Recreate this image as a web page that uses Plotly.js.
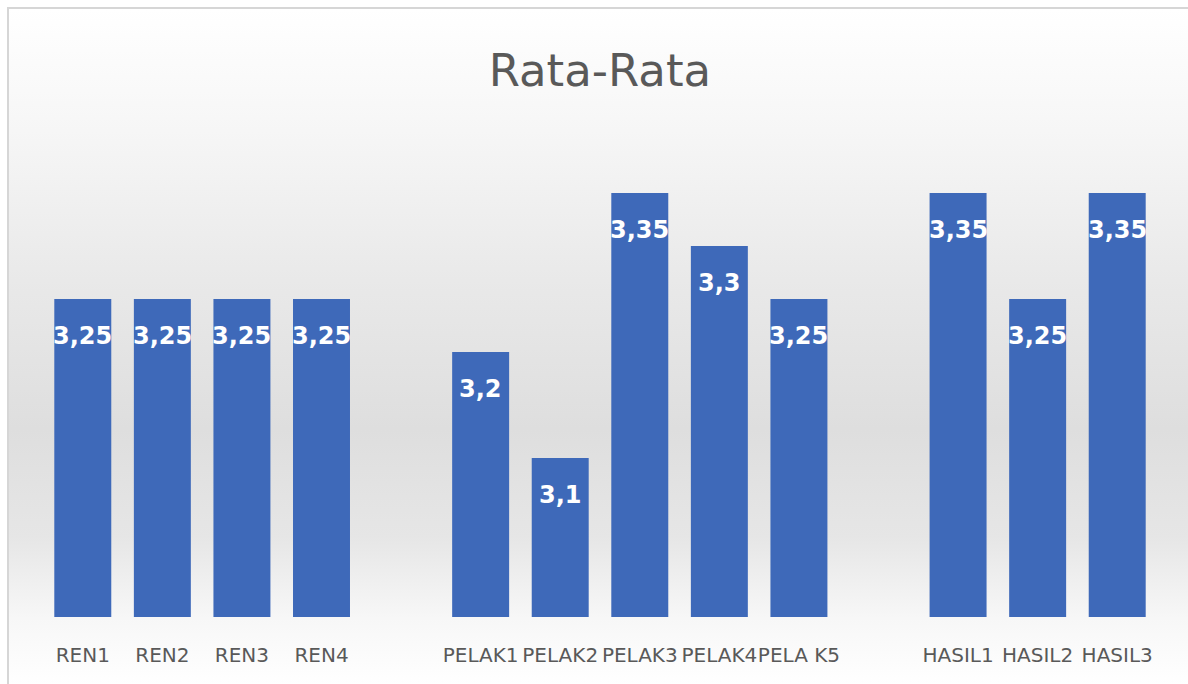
<!DOCTYPE html>
<html>
<head>
<meta charset="utf-8">
<script src="https://cdn.plot.ly/plotly-3.0.1.min.js"></script>
<style>
  html, body { margin: 0; padding: 0; background: #ffffff; }
  #wrap {
    position: relative; width: 1188px; height: 684px; overflow: hidden;
    background: #ffffff;
  }
  #frame {
    position: absolute; left: 7px; top: 7px; width: 1181px; height: 677px;
    border-left: 2px solid #d6d6d6; border-top: 2px solid #d6d6d6;
    background: linear-gradient(to bottom, #ffffff 0%, #f6f6f6 18%, #e9e9e9 40%, #dedede 62%, #e6e6e6 78%, #f7f7f7 90%, #ffffff 100%);
  }
  #chart { position: absolute; left: 0; top: 0; width: 1188px; height: 684px; }
</style>
</head>
<body>
<div id="wrap">
  <div id="frame"></div>
  <div id="chart"></div>
</div>
<script>
  // Categories (blank entries are the empty gaps between groups)
  const categories = ['REN1', 'REN2', 'REN3', 'REN4', ' ',
                      'PELAK1', 'PELAK2', 'PELAK3', 'PELAK4', 'PELA K5', '  ',
                      'HASIL1', 'HASIL2', 'HASIL3'];
  const values = [3.25, 3.25, 3.25, 3.25, null,
                  3.2, 3.1, 3.35, 3.3, 3.25, null,
                  3.35, 3.25, 3.35];
  const chartTitle = 'Rata-Rata';

  function fmt(v) { return String(v).replace('.', ','); }

  const annotations = [];
  categories.forEach(function (c, i) {
    if (values[i] === null) return;
    annotations.push({
      x: c, y: values[i], xref: 'x', yref: 'y',
      text: fmt(values[i]), showarrow: false,
      yanchor: 'middle', yshift: -37,
      font: { family: 'DejaVu Sans', size: 24, color: '#ffffff', weight: 'bold' }
    });
  });

  const trace = {
    type: 'bar',
    x: categories,
    y: values,
    marker: { color: '#3e69b9', line: { width: 0 } },
    hoverinfo: 'none'
  };

  const layout = {
    width: 1188, height: 684,
    margin: { l: 43, r: 31, t: 140, b: 67, pad: 0 },
    paper_bgcolor: 'rgba(0,0,0,0)',
    plot_bgcolor: 'rgba(0,0,0,0)',
    showlegend: false,
    bargap: 0.284,
    title: {
      text: chartTitle,
      x: 0.505, xanchor: 'center',
      y: 0.898, yanchor: 'middle', yref: 'container',
      font: { family: 'DejaVu Sans', size: 45, color: '#595959' }
    },
    xaxis: {
      type: 'category',
      categoryorder: 'array', categoryarray: categories,
      showgrid: false, zeroline: false, showline: false,
      ticks: '', tickangle: 0,
      ticklabelstandoff: 24,
      tickfont: { family: 'DejaVu Sans', size: 20, color: '#595959' }
    },
    yaxis: {
      range: [2.95, 3.4],
      visible: false, showgrid: false, zeroline: false
    },
    annotations: annotations
  };

  Plotly.newPlot('chart', [trace], layout, { displayModeBar: false, staticPlot: true });
</script>
</body>
</html>
